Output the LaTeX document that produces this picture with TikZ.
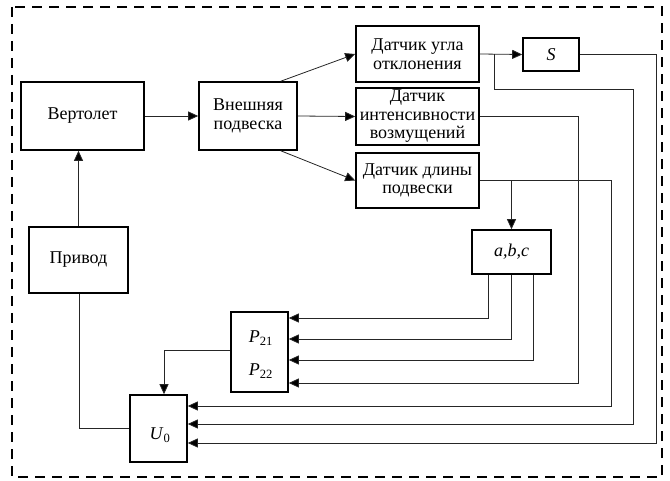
\documentclass[tikz,border=0pt]{standalone}
\usepackage{fontspec}
\setmainfont{Liberation Serif}
\usetikzlibrary{arrows.meta,calc}
\begin{document}
\begin{tikzpicture}[x=1pt,y=-1pt,
  box/.style={draw,line width=1.6pt,align=center,inner sep=0pt,font=\rmfamily\fontsize{18}{18.5}\selectfont},
  lbl/.style={inner sep=0pt,font=\rmfamily\fontsize{18}{18.5}\selectfont},
  ln/.style={line width=0.8pt,draw=black!85},
  arr/.style={ln,-{Triangle[length=10pt,width=9pt,fill=black]}}]
\useasboundingbox (0,0) rectangle (670,481);
\draw[line width=1.6pt,dash pattern=on 10pt off 7pt] (12,7) rectangle (662,477);
% boxes
\node[box,minimum width=123pt,minimum height=68pt] (heli) at (82.5,116) {Вертолет};
\node[box,minimum width=98pt,minimum height=68pt] (ext) at (248,116) {Внешняя\\подвеска};
\node[box,minimum width=99pt,minimum height=66pt] (privod) at (78.5,260) {Привод};
\node[box,minimum width=123pt,minimum height=56pt] (d1) at (417.5,54) {Датчик угла\\отклонения};
\node[box,minimum width=123pt,minimum height=57pt] (d2) at (417.5,116.5) {Датчик\\интенсивности\\возмущений};
\node[box,minimum width=123pt,minimum height=55pt] (d3) at (417.5,180.5) {Датчик длины\\подвески};
\node[box,minimum width=56pt,minimum height=33pt] (S) at (551,54.5) {\textit{S}};
\node[box,minimum width=79pt,minimum height=44pt] (abc) at (511.5,252) {\textit{a,b,c}};
\node[box,minimum width=57pt,minimum height=80pt] (P) at (259.5,352) {};
\node[lbl] (p21) at (261,338) {\textit{P}\textsubscript{21}};
\node[lbl] (p22) at (261,371) {\textit{P}\textsubscript{22}};
\node[box,minimum width=57pt,minimum height=67pt] (U0) at (158.5,428.5) {};
\node[lbl] (u0) at (160,435) {\textit{U}\textsubscript{0}};
% coordinates
\coordinate (ka) at (488,318);
\coordinate (kb) at (511,339);
\coordinate (kc) at (533,360);
\coordinate (kd) at (578,383);
\coordinate (ke) at (611,406);
\coordinate (kf1) at (494,89);
\coordinate (kf) at (633,424);
\coordinate (kg) at (656,443);
\coordinate (kp) at (164,350);
\coordinate (kq) at (79,428);
% connectors
\draw[arr] (heli.east) -- (ext.west);
\draw[arr] ($(ext.north east)+(-17,0)$) -- (d1.west);
\draw[arr] (ext.east) -- (d2.west);
\draw[arr] ($(ext.south east)+(-17,0)$) -- (d3.west);
\draw[arr] (privod.north) -- (privod.north |- heli.south);
\draw[arr] (d1.east) -- (S.west);
\draw[arr] (d1.east -| kf1) -- (kf1) -| (kf) -- (U0.east |- kf);
\draw[arr] (S.east) -| (kg) -- (U0.east |- kg);
\draw[arr] (d2.east) -| (kd) -- (P.east |- kd);
\draw[arr] (d3.east) -| (ke) -- (U0.east |- ke);
\draw[arr] (d3.east -| abc.north) -- (abc.north);
\draw[arr] (abc.south -| ka) -- (ka) -- (P.east |- ka);
\draw[arr] (abc.south -| kb) -- (kb) -- (P.east |- kb);
\draw[arr] (abc.south -| kc) -- (kc) -- (P.east |- kc);
\draw[arr] (P.west |- kp) -| (kp |- U0.north);
\draw[ln] (privod.south -| kq) -- (kq) -- (U0.west |- kq);
\end{tikzpicture}
\end{document}
